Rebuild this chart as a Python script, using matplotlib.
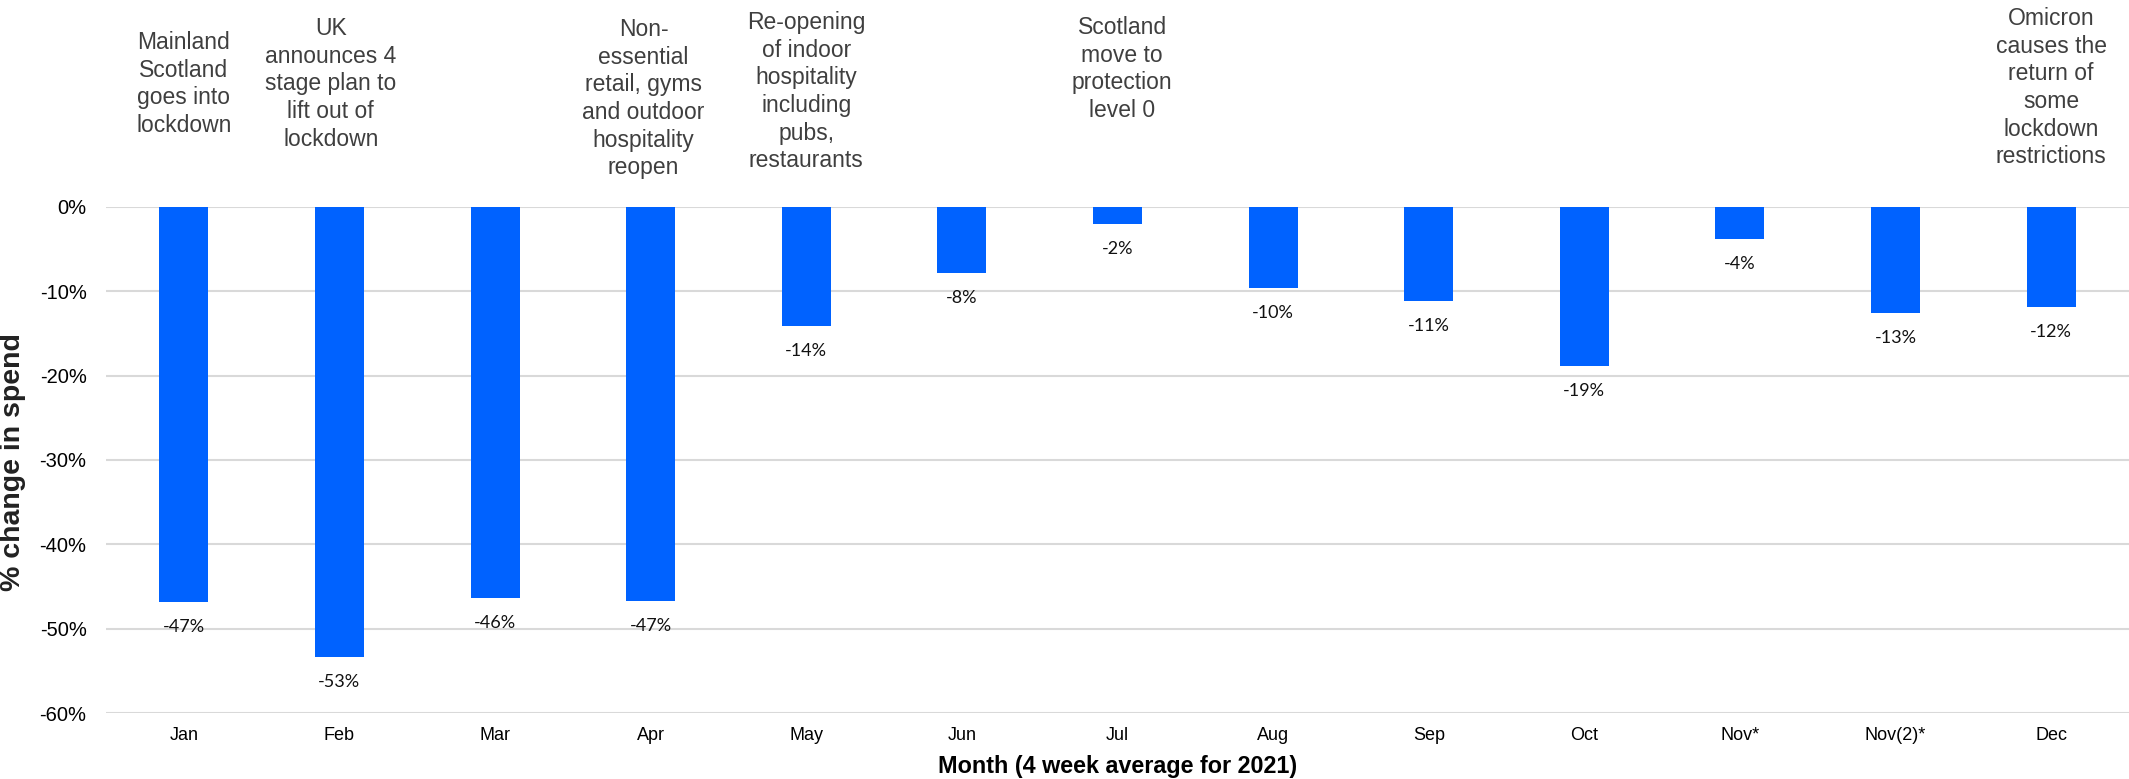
import matplotlib.pyplot as plt

# data
months = ["Jan", "Feb", "Mar", "Apr", "May", "Jun", "Jul", "Aug", "Sep", "Oct", "Nov*", "Nov(2)*", "Dec"]
change = [-46.8, -53.3, -46.3, -46.7, -14.1, -7.8, -2.0, -9.6, -11.2, -18.9, -3.8, -12.6, -11.9]
yticks = [0, -10, -20, -30, -40, -50, -60]

# event notes above the bars: (bar index, text)
events = [
    (0, "Mainland\nScotland\ngoes into\nlockdown"),
    (1, "UK\nannounces 4\nstage plan to\nlift out of\nlockdown"),
    (3, "Non-\nessential\nretail, gyms\nand outdoor\nhospitality\nreopen"),
    (4, "Re-opening\nof indoor\nhospitality\nincluding\npubs,\nrestaurants"),
    (6, "Scotland\nmove to\nprotection\nlevel 0"),
    (12, "Omicron\ncauses the\nreturn of\nsome\nlockdown\nrestrictions"),
]
# top of first line (image pixels from top) and small x nudges
event_top = [31, 17, 18, 11, 16, 7]
event_dx = [0, -0.055, -0.045, 0, 0.03, 0]

W, H = 2129, 779
fig = plt.figure(figsize=(W / 100, H / 100), dpi=100)
ax = fig.add_axes([106 / W, 1 - 713.3 / H, 2023 / W, 506.6 / H])

x = list(range(len(months)))
ax.bar(x, change, width=0.315, color="#0062ff", zorder=3)

for xi, v in zip(x, change):
    ax.annotate(f"{v:.0f}%", (xi, v), xytext=(0, -18), textcoords="offset points",
                ha="center", va="center", fontsize=13, family=["Lato", "DejaVu Sans"],
                color="#111111")

ax.set_xlim(-0.5, len(months) - 0.5)
ax.set_ylim(-60, 0)
ax.set_yticks(yticks)
ax.set_yticklabels([f"{t}%" for t in yticks], fontsize=14.5, family="Liberation Sans")
ax.set_xticks(x)
ax.set_xticklabels(months, fontsize=13, family="Liberation Sans")
ax.tick_params(axis="both", length=0)
ax.tick_params(axis="y", pad=14)
ax.tick_params(axis="x", pad=10)
ax.grid(axis="y", color="#d9d9d9", linewidth=1.5, zorder=0)
for s in ax.spines.values():
    s.set_visible(False)

fig.text(1118 / W, 1 - 767 / H, "Month (4 week average for 2021)", ha="center", va="center",
         fontsize=16.8, fontweight="bold", family="Liberation Sans")
fig.text(13 / W, 1 - 462 / H, "% change in spend", ha="center", va="center", rotation=90,
         fontsize=20.5, fontweight="bold", family="Liberation Sans", color="#222222")

for (i, txt), top, dx in zip(events, event_top, event_dx):
    ax.annotate(txt, (i + dx, H - top), xycoords=("data", "figure pixels"),
                ha="center", va="top", fontsize=16.5, family="Liberation Sans",
                color="#3f3f3f", linespacing=1.26, annotation_clip=False)

fig.savefig("out.png", dpi=100)
